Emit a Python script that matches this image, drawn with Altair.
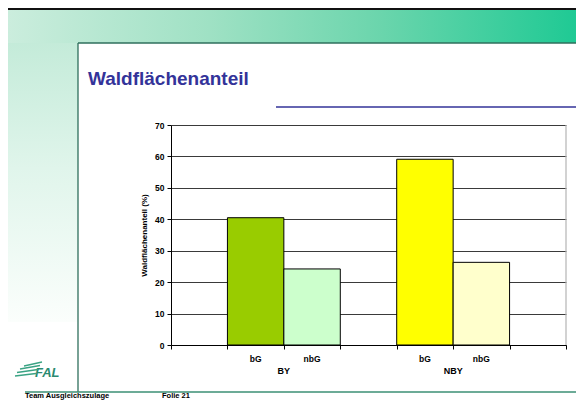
import altair as alt
import pandas as pd

# ---- data ----
groups = ["BY", "NBY"]
subs = ["bG", "nbG"]
by_values = [40.5, 24.2]
nby_values = [59.1, 26.3]
bar_colors = ["#99cc00", "#ccffcc", "#ffff00", "#ffffcc"]
y_ticks = [0, 10, 20, 30, 40, 50, 60, 70]
title_text = "Waldflächenanteil"
y_title = "Waldflächenanteil (%)"
footer_left = "Team Ausgleichszulage"
footer_right = "Folie 21"
logo_text = "FAL"

# ---- table ----
rows = []
for gi, (g, vals) in enumerate(zip(groups, [by_values, nby_values])):
    for si, (s, v) in enumerate(zip(subs, vals)):
        slot = 1 + 3 * gi + si
        rows.append({"group": g, "sub": s, "key": f"{g}-{s}", "value": v,
                     "start": slot, "end": slot + 1, "mid": slot + 0.5, "zero": 0})
bars_df = pd.DataFrame(rows)
grp_df = bars_df.groupby("group", as_index=False).agg(center=("end", "min"))
one = pd.DataFrame({"a": [0]})

W, H = 395, 220
PL, PT = 163, 117
PR, PB = 568 - PL - W, 392 - PT - H
FONT = "Liberation Sans"

xscale = alt.Scale(domain=[0, 7], nice=False, zero=False)
yscale = alt.Scale(domain=[0, 70], nice=False)


def deco_rect(x, x2, y, y2, fill):
    return alt.Chart(one).mark_rect(fill=fill, strokeWidth=0).encode(
        x=alt.value(x), x2=alt.value(x2), y=alt.value(y), y2=alt.value(y2))


def deco_rule(x, x2, y, y2, color, width=1.0):
    return alt.Chart(one).mark_rule(color=color, strokeWidth=width).encode(
        x=alt.value(x), x2=alt.value(x2), y=alt.value(y), y2=alt.value(y2))


def deco_text(x, y, txt, size, color="black", weight="bold", align="left", style="normal"):
    return alt.Chart(one).mark_text(
        align=align, baseline="alphabetic", font=FONT, fontSize=size,
        fontWeight=weight, color=color, fontStyle=style).encode(
        x=alt.value(x), y=alt.value(y), text=alt.value(txt))


top_grad = alt.Gradient(
    gradient="linear", x1=0, x2=1, y1=0, y2=0,
    stops=[alt.GradientStop(offset=0, color="#cbeddd"),
           alt.GradientStop(offset=0.35, color="#9fe1c4"),
           alt.GradientStop(offset=0.65, color="#6ad5ac"),
           alt.GradientStop(offset=1, color="#1cc993")])
left_grad = alt.Gradient(
    gradient="linear", x1=0, x2=0, y1=0, y2=1,
    stops=[alt.GradientStop(offset=0, color="#c4ebd9"),
           alt.GradientStop(offset=0.45, color="#e0f5eb"),
           alt.GradientStop(offset=1, color="#fbfefc")])


# page -> view coordinate helpers (view origin at page 171,125)
def px(v):
    return v - 171


def py(v):
    return v - 125


layers = [
    deco_rect(px(8), px(584), py(10), py(43), top_grad),
    deco_rect(px(8), px(78), py(43), py(322), left_grad),
    deco_rect(px(8), px(584), py(8), py(10), "#111111"),
    deco_rule(px(78), px(78), py(43), py(392), "#2f6f5c", 1.3),
    deco_rule(px(78), px(584), py(43), py(43), "#2f6f5c", 1.3),
    deco_rule(px(25), px(584), py(392), py(392), "#3b8f75", 1.3),
    deco_text(px(88), py(85), title_text, 19, color="#333399"),
    deco_rule(px(276), px(584), py(107), py(107), "#333399", 1.5),
    deco_text(px(25), py(397.5), footer_left, 7.5),
    deco_text(px(162), py(397.5), footer_right, 7.5),
    deco_text(px(35), py(377), logo_text, 13, color="#2a8a70", style="italic"),
]
for (a, b, c, d) in [(24, 366, 42, 362), (20, 369, 40, 365.5), (17, 372.5, 38, 369.5), (15, 376, 36, 373.5)]:
    layers.append(deco_rule(px(a), px(c), py(b), py(d), "#3aa384", 1.4))

bars = alt.Chart(bars_df).mark_rect(stroke="black", strokeWidth=1).encode(
    x=alt.X("start:Q", scale=xscale,
            axis=alt.Axis(values=list(range(8)), labels=False, grid=False, title=None,
                          domainColor="black", tickColor="black", tickSize=4)),
    x2="end:Q",
    y=alt.Y("value:Q", scale=yscale,
            axis=alt.Axis(values=y_ticks, title=y_title, grid=True, gridColor="#3a3a3a",
                          gridWidth=1, domainColor="black", tickColor="black", tickSize=4,
                          labelFont=FONT, labelFontSize=8.5, labelFontWeight="bold",
                          labelColor="black", labelPadding=3, titleFont=FONT,
                          titleFontSize=8, titleFontWeight="bold", titleColor="black",
                          titlePadding=6)),
    y2="zero:Q",
    color=alt.Color("key:N", scale=alt.Scale(domain=list(bars_df["key"]), range=bar_colors),
                    legend=None),
)

sub_labels = alt.Chart(bars_df).mark_text(
    font=FONT, fontSize=8.5, fontWeight="bold", baseline="middle", color="black").encode(
    x=alt.X("mid:Q", scale=xscale), y=alt.value(py(359)), text="sub:N")

grp_labels = alt.Chart(grp_df).mark_text(
    font=FONT, fontSize=9, fontWeight="bold", baseline="middle", color="black").encode(
    x=alt.X("center:Q", scale=xscale), y=alt.value(py(370.5)), text="group:N")

right_border = deco_rule(W, W, 0, H, "#b4b4b4", 1.2)

chart = alt.layer(*layers, bars, right_border, sub_labels, grp_labels).properties(
    width=W, height=H,
    padding={"left": PL, "top": PT, "right": PR, "bottom": PB},
    autosize="none",
    background="white",
).configure_view(stroke=None)

chart.save("out.html", embed_options={"renderer": "svg", "actions": False})
